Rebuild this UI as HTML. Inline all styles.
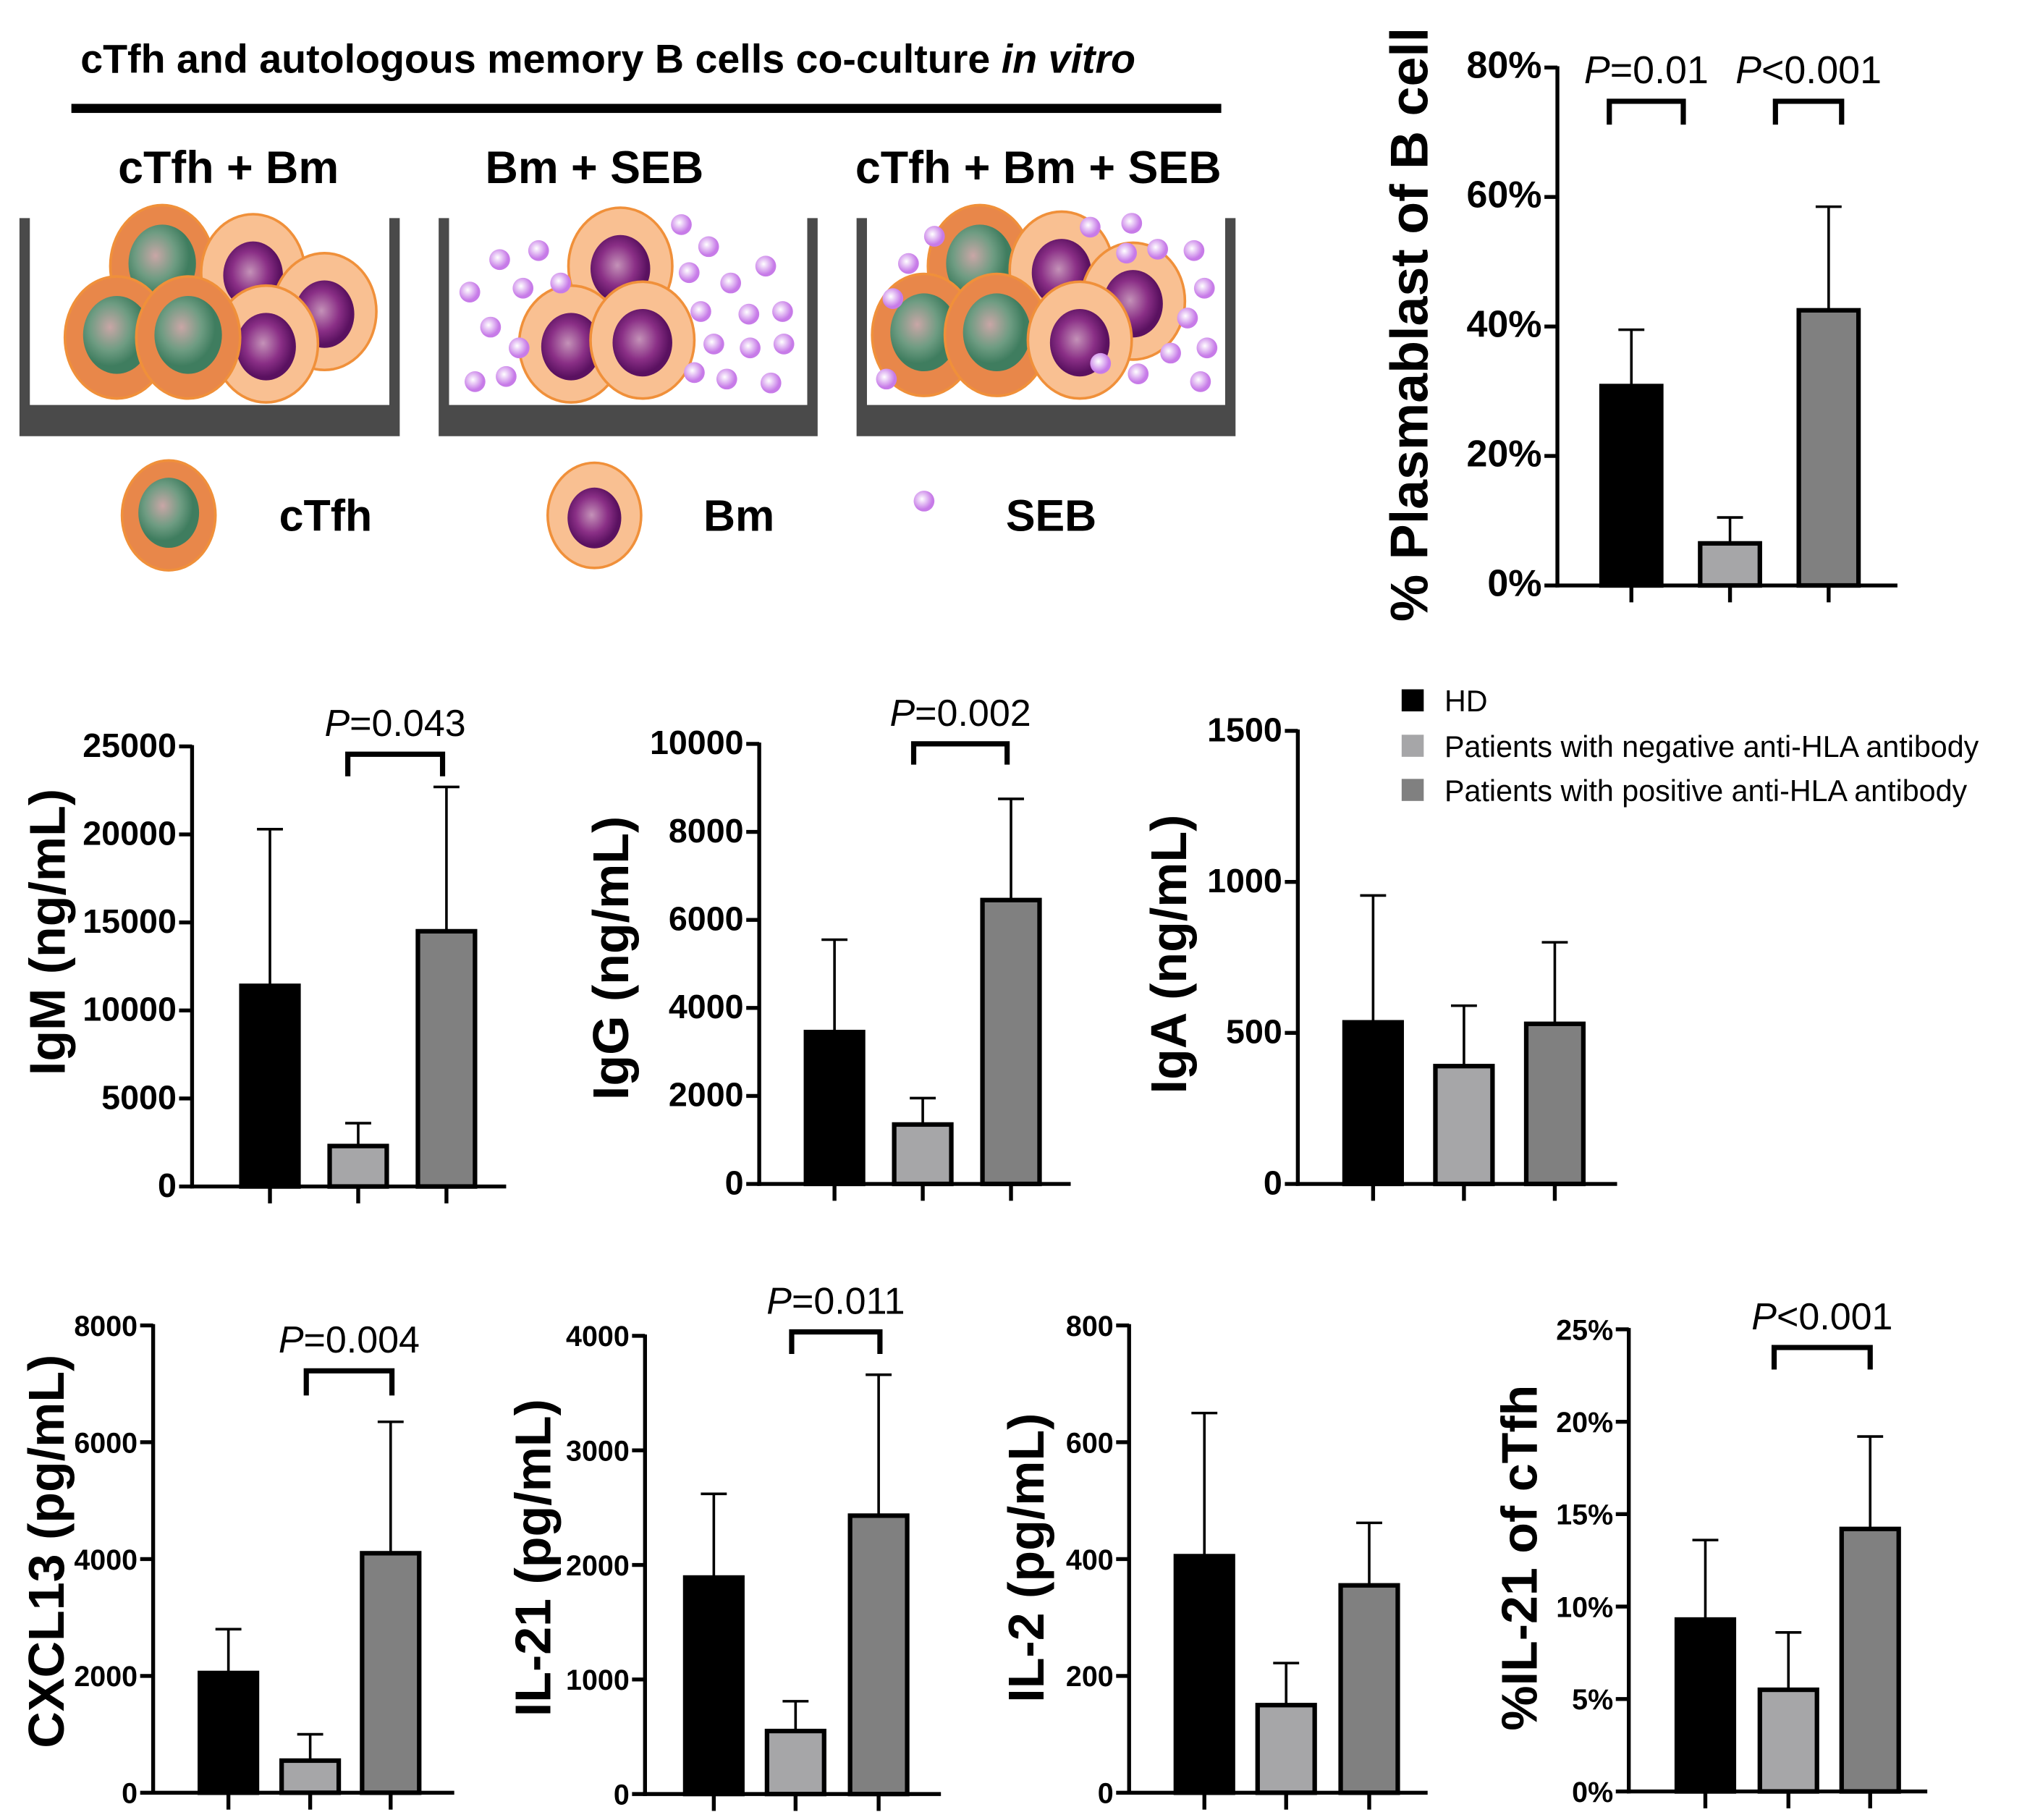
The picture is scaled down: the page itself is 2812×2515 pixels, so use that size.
<!DOCTYPE html>
<html><head><meta charset="utf-8"><style>
html,body{margin:0;padding:0;background:#fff}
svg{display:block}
text{font-family:"Liberation Sans",sans-serif}
</style></head><body>
<svg id="root" width="2812" height="2515" viewBox="0 0 1568 1402" preserveAspectRatio="none" xmlns="http://www.w3.org/2000/svg">
<defs>
<radialGradient id="gT" cx="0.4" cy="0.4"><stop offset="0" stop-color="#c9a6a6"/><stop offset="0.6" stop-color="#6e9c82"/><stop offset="1" stop-color="#3f7d5f"/></radialGradient>
<radialGradient id="gB" cx="0.45" cy="0.45"><stop offset="0" stop-color="#c492b8"/><stop offset="0.6" stop-color="#8a2f86"/><stop offset="1" stop-color="#5a1160"/></radialGradient>
<radialGradient id="gS" cx="0.4" cy="0.4"><stop offset="0" stop-color="#fff"/><stop offset="1" stop-color="#c77be8"/></radialGradient>
</defs>
<g id="illus">
<text x="62" y="56" font-size="31" font-weight="bold">cTfh and  autologous memory B cells co-culture <tspan font-style="italic">in vitro</tspan></text>
<rect x="55" y="80" width="886" height="7" fill="#000"/>
<text x="176" y="141" font-size="35" font-weight="bold" text-anchor="middle">cTfh + Bm</text>
<text x="458" y="141" font-size="35" font-weight="bold" text-anchor="middle">Bm + SEB</text>
<text x="800" y="141" font-size="35" font-weight="bold" text-anchor="middle">cTfh + Bm + SEB</text>
<g id="wells"></g>
<text x="215" y="409" font-size="34" font-weight="bold">cTfh</text>
<text x="542" y="409" font-size="34" font-weight="bold">Bm</text>
<text x="775" y="409" font-size="34" font-weight="bold">SEB</text>
</g>
<g id="charts"></g>
<g>
<rect x="1080" y="531" width="17" height="17" fill="#000"/>
<text x="1113" y="548" font-size="23">HD</text>
<rect x="1080" y="566" width="17" height="17" fill="#a6a6a8"/>
<text x="1113" y="583" font-size="23">Patients with negative anti-HLA antibody</text>
<rect x="1080" y="600" width="17" height="17" fill="#808080"/>
<text x="1113" y="617" font-size="23">Patients with positive anti-HLA antibody</text>
</g>
</svg>
<script>
const NS="http://www.w3.org/2000/svg";
const groups=["HD","Negative","Positive"];
const fills=["#000000","#a6a6a8","#808080"];
// data arrays
const plasmaVals=[30.8,6.5,42.5], plasmaErr=[39.5,10.5,58.5], plasmaTicks=[0,20,40,60,80];
const igmVals=[11400,2300,14500], igmErr=[20300,3600,22700], igmTicks=[0,5000,10000,15000,20000,25000];
const iggVals=[3450,1350,6450], iggErr=[5550,1950,8750], iggTicks=[0,2000,4000,6000,8000,10000];
const igaVals=[535,390,530], igaErr=[955,590,800], igaTicks=[0,500,1000,1500];
const cxclVals=[2050,550,4100], cxclErr=[2800,1000,6350], cxclTicks=[0,2000,4000,6000,8000];
const il21Vals=[1890,550,2430], il21Err=[2620,810,3660], il21Ticks=[0,1000,2000,3000,4000];
const il2Vals=[405,150,355], il2Err=[650,222,462], il2Ticks=[0,200,400,600,800];
const pil21Vals=[9.3,5.5,14.2], pil21Err=[13.6,8.6,19.2], pil21Ticks=[0,5,10,15,20,25];

function mk(tag,attrs,parent){const e=document.createElementNS(NS,tag);for(const k in attrs)e.setAttribute(k,attrs[k]);parent.appendChild(e);return e;}
const charts=document.getElementById('charts');
function chart(o){
  const g=mk('g',{},charts);
  
  
  const max=o.ticks[o.ticks.length-1];
  const y=v=>o.y0-(v/max)*(o.y0-o.yTop);
  const ax=mk('line',{x1:o.ax,y1:o.y0+1.5,x2:o.ax,y2:o.yTop-1,stroke:'#000','stroke-width':3},g);
  
  
  const xa=mk('line',{x1:o.ax-1.5,y1:o.y0,x2:o.xEnd,y2:o.y0,stroke:'#000','stroke-width':3},g);
  
  
  o.ticks.forEach(t=>{
    mk('line',{x1:o.ax-10,y1:y(t),x2:o.ax,y2:y(t),stroke:'#000','stroke-width':3},g);
    const tx=mk('text',{x:o.ax-12,y:y(t)+8,'font-size':o.fs||26,'font-weight':'bold','text-anchor':'end'},g);
    tx.textContent=t+(o.pct?'%':'');
    
    
  });
  o.vals.forEach((v,i)=>{
    const cx=o.cx[i], w=o.bw||44;
    const eb=mk('line',{x1:cx,y1:y(v),x2:cx,y2:y(o.err[i]),stroke:'#000','stroke-width':2},g);
    
    
    mk('line',{x1:cx-10,y1:y(o.err[i]),x2:cx+10,y2:y(o.err[i]),stroke:'#000','stroke-width':2},g);
    const r=mk('rect',{x:cx-w/2,y:y(v),width:w,height:o.y0-y(v),fill:fills[i],stroke:'#000','stroke-width':3.5},g);
    
    
    mk('line',{x1:cx,y1:o.y0,x2:cx,y2:o.y0+13,stroke:'#000','stroke-width':3},g);
  });
  const t=mk('text',{x:0,y:0,'font-size':o.tfs||39,'font-weight':'bold','text-anchor':'middle',transform:`translate(${o.tx},${o.ty}) rotate(-90)`},g);
  t.textContent=o.title;
  
  
  (o.br||[]).forEach(b=>{
    const p=mk('path',{d:`M${b[0]},${b[3]} V${b[2]} H${b[1]} V${b[3]}`,fill:'none',stroke:'#000','stroke-width':4},g);
    
    
    const l=mk('text',{x:(b[0]+b[1])/2,y:b[2]-14,'font-size':b[5]||29,'text-anchor':'middle'},g);
    l.innerHTML='<tspan font-style="italic">P</tspan>'+b[4];
    
    
  });
}
chart({name:'plasmablast-chart',vals:plasmaVals,err:plasmaErr,ticks:plasmaTicks,pct:true,ax:1200,y0:451,yTop:52,xEnd:1462,cx:[1257,1333,1409],bw:46,fs:29,title:'% Plasmablast of B cell',tx:1100,ty:250,tfs:41,
  br:[[1240,1297,78,96,'=0.01',30],[1368,1419,78,96,'<0.001',30]]});
chart({name:'igm-chart',vals:igmVals,err:igmErr,ticks:igmTicks,ax:148,y0:914,yTop:575,xEnd:390,cx:[208,276,344],title:'IgM (ng/mL)',tx:50,ty:718,
  br:[[268,341,581,598,'=0.043']]});
chart({name:'igg-chart',vals:iggVals,err:iggErr,ticks:iggTicks,ax:585,y0:912,yTop:573,xEnd:825,cx:[643,711,779],title:'IgG (ng/mL)',tx:484,ty:738,
  br:[[704,776,573,589,'=0.002']]});
chart({name:'iga-chart',vals:igaVals,err:igaErr,ticks:igaTicks,ax:1000,y0:912,yTop:563,xEnd:1246,cx:[1058,1128,1198],title:'IgA (ng/mL)',tx:914,ty:735});
chart({name:'cxcl13-chart',vals:cxclVals,err:cxclErr,ticks:cxclTicks,fs:22,ax:118,y0:1381,yTop:1021,xEnd:350,cx:[176,239,301],title:'CXCL13 (pg/mL)',tx:49,ty:1195,
  br:[[236,302,1056,1075,'=0.004']]});
chart({name:'il21-chart',vals:il21Vals,err:il21Err,ticks:il21Ticks,fs:22,ax:497,y0:1382,yTop:1029,xEnd:725,cx:[550,613,677],title:'IL-21 (pg/mL)',tx:424,ty:1200,
  br:[[610,678,1026,1043,'=0.011']]});
chart({name:'il2-chart',vals:il2Vals,err:il2Err,ticks:il2Ticks,fs:22,ax:870,y0:1381,yTop:1021,xEnd:1100,cx:[928,991,1055],title:'IL-2 (pg/mL)',tx:804,ty:1200});
chart({name:'il21-ctfh-chart',vals:pil21Vals,err:pil21Err,ticks:pil21Ticks,fs:22,pct:true,ax:1255,y0:1380,yTop:1024,xEnd:1485,cx:[1314,1378,1441],title:'%IL-21 of cTfh',tx:1184,ty:1200,
  br:[[1367,1441,1038,1055,'<0.001']]});

// illustration
const W=document.getElementById('wells');
function well(x0,x1,name){
  const g=mk('g',{},W);
  
  
  mk('path',{d:`M${x0},168 V336 H${x1} V168 H${x1-8} V312 H${x0+8} V168 Z`,fill:'#4a4a4a'},g);
  return g;
}
function tcell(g,x,y,s){s=s||1;mk('ellipse',{cx:x,cy:y,rx:40*s,ry:47*s,fill:'#e8874a',stroke:'#f0903a','stroke-width':2},g);mk('ellipse',{cx:x,cy:y-2,rx:26*s,ry:30*s,fill:'url(#gT)'},g);}
function bcell(g,x,y,s){s=s||1;mk('ellipse',{cx:x,cy:y,rx:40*s,ry:45*s,fill:'#f9c092',stroke:'#f0903a','stroke-width':2},g);mk('ellipse',{cx:x,cy:y+2,rx:23*s,ry:26*s,fill:'url(#gB)'},g);}
function seb(g,x,y){mk('circle',{cx:x,cy:y,r:8,fill:'url(#gS)'},g);}
let g1=well(15,308,'well-ctfh-bm');
tcell(g1,125,205);bcell(g1,195,210);bcell(g1,250,240);bcell(g1,205,265);tcell(g1,90,260);tcell(g1,145,260);
let g2=well(338,630,'well-bm-seb');
bcell(g2,478,205);bcell(g2,440,265);bcell(g2,495,262);
[[362,225],[385,200],[403,222],[378,252],[415,193],[432,218],[525,173],[546,190],[531,210],[563,218],[590,205],[540,240],[577,242],[603,240],[550,265],[578,268],[604,265],[366,294],[390,290],[535,287],[560,292],[594,295],[400,268]].forEach(p=>seb(g2,p[0],p[1]));
let g3=well(660,952,'well-ctfh-bm-seb');
tcell(g3,755,205);bcell(g3,818,208);bcell(g3,873,232);tcell(g3,712,258);tcell(g3,768,258);bcell(g3,832,262);
[[720,182],[700,203],[688,230],[840,175],[872,172],[868,195],[892,192],[920,193],[928,222],[915,245],[930,268],[902,272],[877,288],[925,294],[683,292],[848,280]].forEach(p=>seb(g3,p[0],p[1]));
const gl=mk('g',{},W);


tcell(gl,130,397,0.9);bcell(gl,458,397,0.9);seb(gl,712,386);
</script>
</body></html>
